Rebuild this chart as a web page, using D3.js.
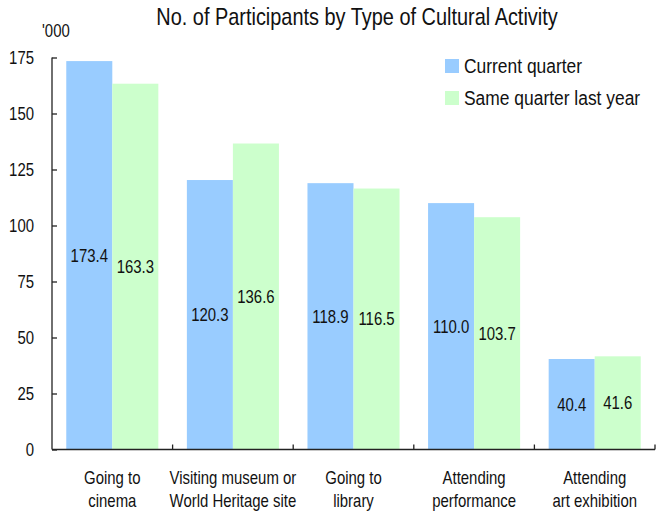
<!DOCTYPE html>
<html>
<head>
<meta charset="utf-8">
<script src="https://cdn.jsdelivr.net/npm/d3@7"></script>
<style>
  html, body { margin: 0; padding: 0; background: #fff; }
  svg text { font-family: "Liberation Sans Narrow", "Arial Narrow", "Liberation Sans", Arial, sans-serif; fill: #111; }
</style>
</head>
<body>
<svg id="chart" width="656" height="512"></svg>
<script>
// Participants ('000) by type of cultural activity
const categories = [
  ["Going to", "cinema"],
  ["Visiting museum or", "World Heritage site"],
  ["Going to", "library"],
  ["Attending", "performance"],
  ["Attending", "art exhibition"]
];
const seriesNames = ["Current quarter", "Same quarter last year"];
const currentQuarter = [173.4, 120.3, 118.9, 110.0, 40.4];
const lastYear = [163.3, 136.6, 116.5, 103.7, 41.6];
const yTicks = [0, 25, 50, 75, 100, 125, 150, 175];
const colors = ["#99ccff", "#ccffcc"];

const svg = d3.select("#chart");
const plotLeft = 52, plotRight = 655, plotTop = 57.5, plotBottom = 449.5;
const NARROW = 0.83; // horizontal squeeze to get a condensed face

const x = d3.scaleBand().domain(d3.range(categories.length)).range([plotLeft, plotRight]);
const inner = d3.scaleBand().domain([0, 1]).range([0, x.bandwidth()]).paddingOuter(0.31).paddingInner(0);
const y = d3.scaleLinear().domain([0, 175]).range([plotBottom, plotTop]);

// Places a condensed text label with its anchor point at (px, py)
function label(parent, px, py, str, size, anchor, dy) {
  return parent.append("text")
    .attr("transform", `translate(${px},${py}) scale(${NARROW},1)`)
    .attr("text-anchor", anchor || "start")
    .attr("dy", dy || null)
    .style("font-size", size + "px")
    .text(str);
}

// Title
label(svg, 357, 25, "No. of Participants by Type of Cultural Activity", 24, "middle");

// Unit label
label(svg, 42, 37, "'000", 18);

// Bars
const series = [currentQuarter, lastYear];
series.forEach((vals, s) => {
  const g = svg.append("g");
  g.selectAll("rect").data(vals).enter().append("rect")
    .attr("x", (d, i) => x(i) + inner(s))
    .attr("width", inner.bandwidth())
    .attr("y", d => y(d))
    .attr("height", d => y(0) - y(d))
    .attr("fill", colors[s]);
  vals.forEach((d, i) => {
    label(g, x(i) + inner(s) + inner.bandwidth() / 2, (y(d) + y(0)) / 2, d.toFixed(1), 18, "middle", "0.35em");
  });
});

// Y axis
const yAxis = d3.axisRight(y).tickValues(yTicks).tickSize(5).tickFormat("");
const yg = svg.append("g").attr("transform", `translate(${plotLeft},0)`).call(yAxis);
yg.select(".domain").attr("stroke", "#222").attr("stroke-width", 1.3).attr("d", `M0,${plotTop}V${plotBottom}`);
yg.selectAll(".tick line").attr("stroke", "#222").attr("stroke-width", 1.3);
const yl = svg.append("g");
yTicks.forEach(t => label(yl, 34, y(t), String(t), 18, "end", "0.35em"));

// X axis with boundary ticks pointing inward
const xg = svg.append("g");
xg.append("line").attr("x1", plotLeft).attr("x2", plotRight).attr("y1", plotBottom).attr("y2", plotBottom)
  .attr("stroke", "#222").attr("stroke-width", 1.3);
xg.selectAll("line.b").data(d3.range(1, categories.length + 1)).enter().append("line")
  .attr("class", "b")
  .attr("x1", i => x(0) + i * x.step()).attr("x2", i => x(0) + i * x.step())
  .attr("y1", plotBottom - 5).attr("y2", plotBottom)
  .attr("stroke", "#222").attr("stroke-width", 1.3);

// Category labels, one text element per line
const cg = svg.append("g");
categories.forEach((lines, i) => {
  lines.forEach((ln, k) => label(cg, x(i) + x.bandwidth() / 2, 484 + k * 23, ln, 18, "middle"));
});

// Legend
const lg = svg.append("g");
seriesNames.forEach((name, s) => {
  lg.append("rect").attr("x", 445).attr("y", 59 + s * 32).attr("width", 14).attr("height", 14).attr("fill", colors[s]);
  label(lg, 464, 73 + s * 32, name, 21);
});
</script>
</body>
</html>
